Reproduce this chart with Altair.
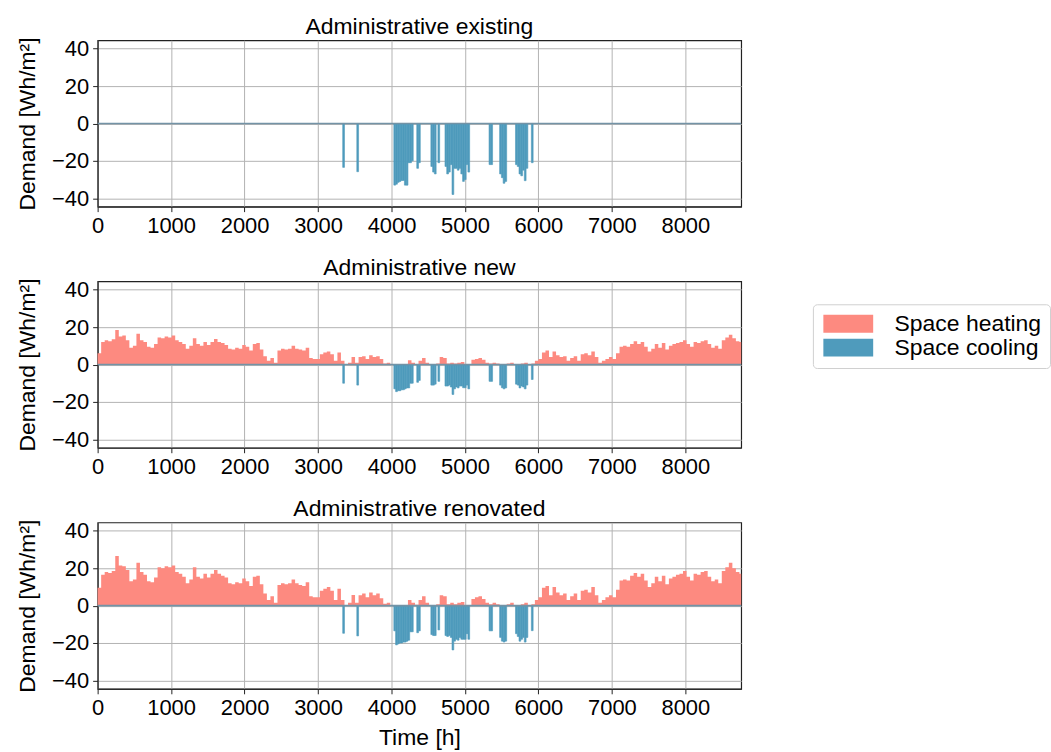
import altair as alt
import pandas as pd

FONT = "Liberation Sans"
HEAT_COLOR = "#fd8a80"
COOL_COLOR = "#4f9bbc"

# Heating demand, one value per 48-hour step starting at hour 0 (Wh/m2)
heat_new = [
    6, 12, 13, 12.5, 13.5, 18.5, 15, 15.5, 13, 9,
    10, 16.5, 13, 12, 9.5, 9, 11, 14.5, 14, 15,
    14.5, 15.5, 13, 12, 11, 8.5, 10, 14, 11, 10,
    12, 10.5, 12, 13.6, 12, 11.5, 10.5, 8.5, 8, 9,
    8.5, 10.5, 9.5, 7.5, 11, 11.5, 8, 4.5, 2, 3.5,
    1, 7.5, 8.5, 8, 8.5, 10, 8.5, 8, 7.5, 9,
    3.5, 3, 3, 5.5, 6.5, 7, 5.5, 2, 6.5, 2,
    0, 1, 4, 1, 4, 4.5, 3, 5, 4, 4.5,
    3, 0.5, 1, 0, 0, 0, 0, 0, 2.3, 1,
    0.3, 2, 3.5, 1, 0, 0, 0.5, 4, 3.5, 0.5,
    1, 0.5, 1, 1.4, 0.3, 0, 2.5, 3, 3.5, 2.5,
    1, 0.5, 1, 0.5, 0.3, 0, 0.5, 1, 0, 0.3,
    0.5, 1, 0.3, 0.5, 2, 3, 6.5, 7.5, 4, 7,
    5, 4, 4.5, 2, 3.5, 4.5, 2, 5.5, 6, 5,
    7, 4, 1, 2, 3, 4, 3, 6, 9.5, 10,
    9.5, 11, 12.5, 11, 12, 9.5, 7, 8.5, 11, 9,
    11.5, 8, 10, 11, 11.5, 12, 13, 11, 9.5, 12,
    11.5, 12.5, 13, 11, 9, 10, 8.5, 13, 14.5, 16,
    14, 12.5, 12,
]
heat_renovated = [
    9.5, 16.5, 18, 17.5, 18.5, 26.5, 21.5, 21, 19, 13,
    14, 23, 18, 16.5, 13, 12.5, 15, 20.5, 20, 21,
    20.5, 21.5, 18, 17, 15.5, 12, 14, 20.5, 15.5, 14.5,
    17, 15, 17, 19, 17, 16, 15, 12, 11.5, 12.5,
    12, 14.5, 13, 10.5, 15.5, 16, 11.5, 6.5, 3, 5,
    1.5, 11, 12, 11.5, 12, 14, 12, 11, 10.5, 12.5,
    5, 4.5, 4.5, 8, 9, 10, 8, 3, 9, 3,
    0, 1.5, 5.7, 1.5, 5.5, 6.5, 4.5, 7, 5.5, 6.5,
    4, 1, 1.5, 0, 0, 0, 0, 0, 3, 1.5,
    0.5, 3, 5, 1.5, 0, 0, 0.7, 5.5, 5, 0.7,
    1.5, 0.7, 1.5, 2, 0.4, 0, 3.5, 4.5, 5, 3.5,
    1.5, 0.7, 1.5, 0.7, 0.4, 0, 0.7, 1.5, 0, 0.4,
    0.7, 1.5, 0.4, 0.7, 3, 4.5, 9.5, 10.5, 5.5, 10,
    7, 5.5, 6.5, 3, 5, 6.5, 3, 8, 8.5, 7,
    10, 5.5, 1.5, 3, 4.5, 5.5, 4.5, 8.5, 13.5, 14,
    13.5, 16, 17.5, 15.5, 17, 13.5, 10, 12, 15.5, 13,
    16, 11.5, 14.5, 15.5, 16.5, 17, 18.5, 15.5, 13.5, 17,
    16.5, 18, 18.5, 15.5, 13, 14, 12, 18.5, 20.5, 23,
    20, 18, 17,
]
HEAT_STEP = 48

# Cooling demand by day of year (Wh/m2, negative)
cool_days = [
    139, 147,
    168, 169, 170, 171, 172, 173, 174, 175, 176, 177, 178,
    181, 182,
    189, 190, 191, 193,
    197, 198, 199, 200, 201, 202, 203, 204, 205, 206, 207, 208, 209, 210,
    222, 223,
    228, 229, 230, 231,
    237, 238, 239, 240, 241, 242, 243,
    246,
]
cool_existing = [
    -23.5, -25.8,
    -33, -32.5, -31.5, -31, -30.5, -30.5, -33, -33, -21, -21, -20,
    -24, -21,
    -23, -26, -27, -21,
    -23, -27, -26, -22, -38, -24, -24, -25, -24, -27, -31, -30, -22, -26,
    -22, -22,
    -27, -29, -32, -31,
    -22, -23, -27, -28, -25, -30.6, -24,
    -21,
]
cool_new = [
    -10, -11,
    -13, -14.5, -14, -14, -13.5, -13.5, -13, -12.5, -12.5, -10, -10,
    -9.5, -8.5,
    -11, -11, -10.5, -9,
    -11.5, -11.5, -11, -12, -16, -13, -12, -12.5, -11.5, -11.5, -12.4, -12.4, -11, -13,
    -9, -9,
    -11, -12.4, -13, -12.5,
    -10.5, -11, -12.5, -11.5, -12, -13, -11,
    -8,
]
cool_renovated = [
    -14.8, -16.2,
    -13.5, -21, -20.5, -20, -20, -19.5, -19.5, -19, -18.5, -14, -14,
    -14.5, -13.5,
    -15.5, -16, -16, -13,
    -16, -16.5, -16, -17, -23.7, -19, -18, -18.5, -17, -18, -18, -18, -15, -18,
    -13.5, -13.5,
    -17, -19, -19.5, -19,
    -15, -16.5, -19, -18, -17, -19.5, -17,
    -13.4,
]

titles = ["Administrative existing", "Administrative new", "Administrative renovated"]
series_names = ["Space heating", "Space cooling"]
x_ticks = [0, 1000, 2000, 3000, 4000, 5000, 6000, 7000, 8000]
y_ticks = [-40, -20, 0, 20, 40]
HOURS = 8760
Y_LIM = 44.5

color_enc = alt.Color(
    "kind:N",
    scale=alt.Scale(domain=series_names, range=[HEAT_COLOR, COOL_COLOR]),
    legend=alt.Legend(
        title=None,
        orient="none",
        legendX=718,
        legendY=265,
        symbolType="M-1,-1L4.556,-1L4.556,1L-1,1Z",
        symbolSize=324,
        symbolStrokeWidth=0,
        symbolOpacity=1,
        labelFont=FONT,
        labelFontSize=23,
        labelColor="black",
        labelOffset=51,
        rowPadding=0,
        padding=8,
        fillColor="white",
        strokeColor="#d0d0d0",
        cornerRadius=4,
    ),
)


def make_panel(title, heat, cool, bottom):
    x_axis = alt.Axis(
        values=x_ticks,
        format="d",
        labelFlush=False,
        title="Time [h]" if bottom else None,
    )
    y_axis = alt.Axis(values=y_ticks, title="Demand [Wh/m²]")
    xs = alt.Scale(domain=[0, HOURS], nice=False, zero=False)
    ys = alt.Scale(domain=[-Y_LIM, Y_LIM], nice=False)

    layers = []
    if heat is not None:
        hours = [i * HEAT_STEP for i in range(len(heat))] + [HOURS]
        vals = list(heat) + [heat[-1]]
        hdf = pd.DataFrame({"hour": hours, "value": vals, "kind": series_names[0]})
        layers.append(
            alt.Chart(hdf)
            .mark_area(interpolate="step-after")
            .encode(
                x=alt.X("hour:Q", scale=xs, axis=x_axis),
                y=alt.Y("value:Q", scale=ys, axis=y_axis, stack=None),
                color=color_enc,
            )
        )
    cdf = pd.DataFrame(
        {
            "x0": [d * 24 for d in cool_days],
            "x1": [d * 24 + 24 for d in cool_days],
            "value": cool,
            "kind": series_names[1],
        }
    )
    layers.append(
        alt.Chart(cdf)
        .mark_rect(stroke=COOL_COLOR, strokeWidth=0.6)
        .encode(
            x=alt.X("x0:Q", scale=xs, axis=x_axis),
            x2="x1:Q",
            y=alt.Y("value:Q", scale=ys, axis=y_axis),
            y2=alt.datum(0),
            color=color_enc,
        )
    )
    layers.append(
        alt.Chart(pd.DataFrame({"z": [0]}))
        .mark_rule(color="#7393a6", strokeWidth=1.6)
        .encode(y=alt.Y("z:Q", scale=ys, axis=y_axis))
    )
    return alt.layer(*layers).properties(
        width=646, height=167, title=alt.TitleParams(title, frame="group")
    )


chart = (
    alt.vconcat(
        make_panel(titles[0], None, cool_existing, False),
        make_panel(titles[1], heat_new, cool_new, False),
        make_panel(titles[2], heat_renovated, cool_renovated, True),
        spacing=18,
    )
    .properties(padding={"left": 16, "top": 13, "right": 0, "bottom": 0})
    .configure_view(stroke="#222222", strokeWidth=1.2)
    .configure_axis(
        labelFont=FONT,
        titleFont=FONT,
        labelFontSize=22,
        titleFontSize=23,
        titleFontWeight="normal",
        labelColor="black",
        titleColor="black",
        tickColor="#222222",
        domainColor="#222222",
        tickSize=5,
        labelPadding=4,
        gridColor="#b3b3b3",
        gridWidth=1,
    )
    .configure_axisY(titlePadding=12)
    .configure_axisX(titlePadding=8)
    .configure_title(
        font=FONT, fontSize=23, fontWeight="normal", color="black", offset=-2, anchor="middle"
    )
)

chart.save("out.html", embed_options={"renderer": "svg", "actions": False})
